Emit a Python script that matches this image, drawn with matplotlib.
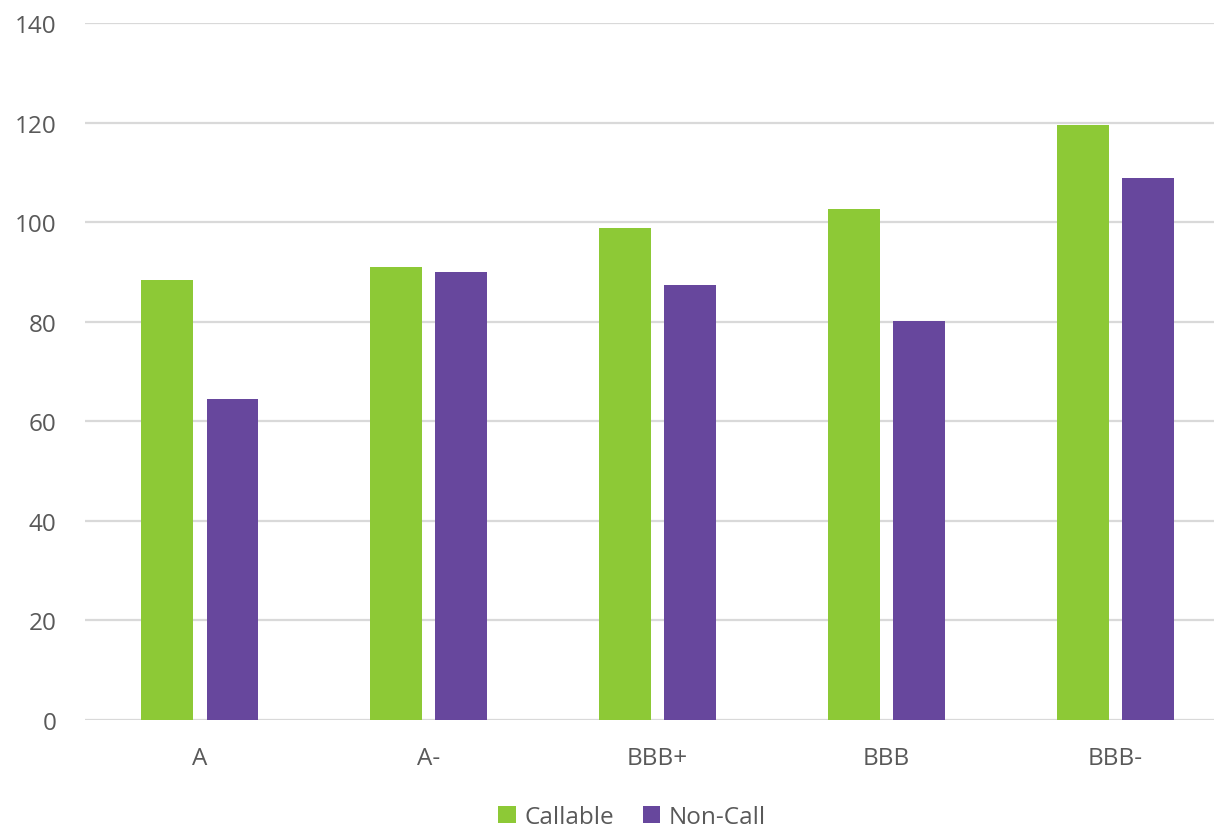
import matplotlib
matplotlib.use("Agg")
import matplotlib.pyplot as plt
import numpy as np

categories = ["A", "A-", "BBB+", "BBB", "BBB-"]
callable_vals = [88.3, 90.9, 98.8, 102.7, 119.6]
noncall_vals = [64.5, 90.0, 87.3, 80.2, 108.9]
series_names = ["Callable", "Non-Call"]
yticks = [0, 20, 40, 60, 80, 100, 120, 140]

green = "#8DC936"
purple = "#67479D"
text_color = "#595959"
grid_color = "#D9D9D9"

plt.rcParams["font.family"] = ["Open Sans", "DejaVu Sans"]

W, H = 1214, 828
fig = plt.figure(figsize=(W / 100, H / 100), dpi=100)
left, right, top, bottom = 85.3, 1214, 24, 721
ax = fig.add_axes([left / W, 1 - bottom / H, (right - left) / W, (bottom - top) / H])

x = np.arange(len(categories))
bw = 0.227
off = 0.143
ax.bar(x - off, callable_vals, bw, color=green, label=series_names[0], zorder=3)
ax.bar(x + off, noncall_vals, bw, color=purple, label=series_names[1], zorder=3)

ax.set_xlim(-0.5, 4.431)
ax.set_ylim(0, 140)
ax.set_yticks(yticks)
ax.set_xticks(x)
ax.set_xticklabels(categories)
ax.yaxis.grid(True, color=grid_color, linewidth=1.6, zorder=0)
ax.set_axisbelow(True)
for s in ax.spines.values():
    s.set_visible(False)
ax.tick_params(axis="both", length=0, labelsize=17.5, colors=text_color)
ax.tick_params(axis="y", pad=21)
ax.tick_params(axis="x", pad=19)

leg = fig.legend(loc="center", bbox_to_anchor=(632 / W, 1 - 818 / H), ncol=2,
                 frameon=False, fontsize=17.5, handlelength=0.72, handleheight=0.72,
                 handletextpad=0.35, columnspacing=1.2)
for t in leg.get_texts():
    t.set_color(text_color)

fig.savefig("out.png", dpi=100)
